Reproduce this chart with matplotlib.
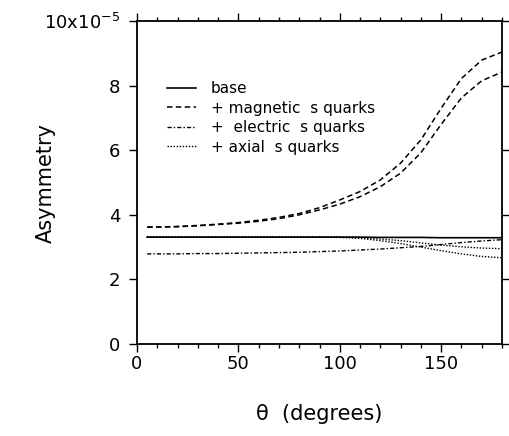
import matplotlib
matplotlib.use("Agg")
import matplotlib.pyplot as plt
from matplotlib.ticker import MultipleLocator, FixedLocator

plt.rcParams['font.family'] = ['DejaVu Sans']

theta = [5, 10, 20, 30, 40, 50, 60, 70, 80, 90, 100, 110, 120, 130, 140, 150, 160, 170, 180]

base = [3.31, 3.31, 3.31, 3.31, 3.31, 3.31, 3.31, 3.31, 3.31, 3.31, 3.31, 3.31, 3.30, 3.30, 3.30, 3.29, 3.29, 3.29, 3.29]

mag_a = [3.62, 3.62, 3.64, 3.67, 3.71, 3.76, 3.83, 3.92, 4.04, 4.22, 4.46, 4.72, 5.08, 5.60, 6.32, 7.30, 8.22, 8.79, 9.04]
mag_b = [3.62, 3.62, 3.63, 3.66, 3.70, 3.74, 3.80, 3.88, 4.00, 4.15, 4.33, 4.56, 4.87, 5.29, 5.92, 6.80, 7.62, 8.15, 8.42]

electric = [2.79, 2.79, 2.79, 2.80, 2.80, 2.81, 2.82, 2.83, 2.84, 2.86, 2.88, 2.91, 2.94, 2.98, 3.02, 3.08, 3.14, 3.19, 3.23]

axial_a = [3.31, 3.31, 3.31, 3.31, 3.31, 3.31, 3.31, 3.31, 3.31, 3.31, 3.31, 3.29, 3.25, 3.20, 3.13, 3.06, 3.01, 2.97, 2.95]
axial_b = [3.31, 3.31, 3.31, 3.31, 3.31, 3.31, 3.31, 3.31, 3.31, 3.31, 3.30, 3.27, 3.20, 3.11, 3.00, 2.89, 2.79, 2.71, 2.67]

labels = ["base", "+ magnetic  s quarks", "+  electric  s quarks", "+ axial  s quarks"]

xticks = [0, 50, 100, 150]
yticks = [0, 2, 4, 6, 8, 10]
ytick_labels = ["0", "2", "4", "6", "8", "10x10$^{-5}$"]

fig = plt.figure(figsize=(5.1, 4.36), dpi=100)
ax = fig.add_axes([137/510, 1 - 344/436, (502 - 137)/510, (344 - 21)/436])

lw = 1.0
l_base, = ax.plot(theta, base, color='black', lw=1.2, linestyle='-')
l_mag, = ax.plot(theta, mag_a, color='black', lw=1.1, linestyle=(0, (3.6, 2.2)))
ax.plot(theta, mag_b, color='black', lw=1.1, linestyle=(0, (3.6, 2.2)))
l_el, = ax.plot(theta, electric, color='black', lw=lw, linestyle=(0, (3, 1.5, 1, 1.5)))
l_ax, = ax.plot(theta, axial_a, color='black', lw=lw, linestyle=(0, (1, 1.2)))
ax.plot(theta, axial_b, color='black', lw=lw, linestyle=(0, (1, 1.2)))

ax.set_xlim(0, 180)
ax.set_ylim(0, 10)

ax.xaxis.set_major_locator(FixedLocator(xticks))
ax.xaxis.set_minor_locator(MultipleLocator(10))
ax.yaxis.set_major_locator(FixedLocator(yticks))
ax.set_yticklabels(ytick_labels)

ax.tick_params(axis='both', which='both', direction='out', top=True, right=True,
               labelsize=13, width=1.0, color='black')
ax.tick_params(axis='both', which='major', length=6)
ax.tick_params(axis='both', which='minor', length=3)
ax.tick_params(axis='x', pad=2)
ax.tick_params(axis='y', pad=6)

for s in ax.spines.values():
    s.set_linewidth(1.3)

ax.set_ylabel("Asymmetry", fontsize=15)
ax.yaxis.set_label_coords(-0.222, 0.5)
ax.set_xlabel("\u03b8  (degrees)", fontsize=15, labelpad=22)

leg = ax.legend([l_base, l_mag, l_el, l_ax], labels, frameon=False, fontsize=11,
                loc='upper left', bbox_to_anchor=(167/510, 1 - 81/436),
                bbox_transform=fig.transFigure, handlelength=1.9, handletextpad=0.95,
                labelspacing=0.3, borderaxespad=0, borderpad=0)

fig.savefig("out.png", dpi=100)
